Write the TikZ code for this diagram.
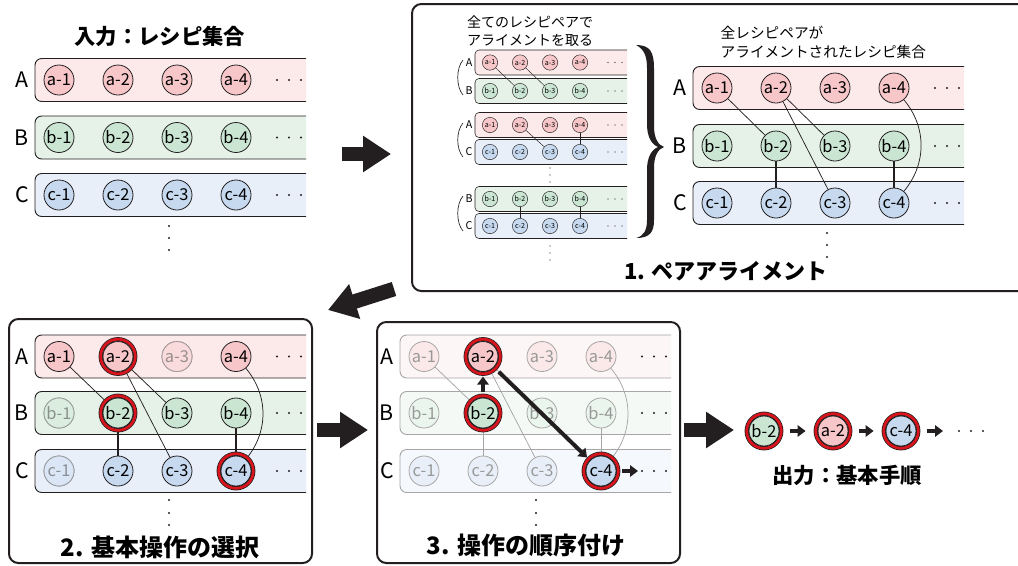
\documentclass[tikz,border=0pt]{standalone}
\usepackage{fontspec}
\setmainfont{Noto Sans CJK JP}
\usetikzlibrary{arrows.meta}
\definecolor{bandA}{HTML}{FCEAEA}
\definecolor{circA}{HTML}{F6C6C9}
\definecolor{bandB}{HTML}{E6F2E8}
\definecolor{circB}{HTML}{CAE6D3}
\definecolor{bandC}{HTML}{E8EFF9}
\definecolor{circC}{HTML}{C6D9EF}
\definecolor{ink}{HTML}{231F20}
\definecolor{ringred}{HTML}{D9141C}

\newcommand\bigrow[6]{%
  \begin{scope}
    \clip (#4-40,#5-30) rectangle (#4+247,#5+30);
    \draw[bandline, fill=band#6] (#4-24,#5-21.5) rectangle (#4+290,#5+21.5);
  \end{scope}
  \node[rowlab] (#1lab) at (#4-37,#5) {#2};
  \foreach \i in {1,2,3,4}{\node[rc, fill=circ#6] (#1\i) at ({#4+(\i-1)*59},#5) {#3-\i};}
}
\newcommand\rowdots[2]{\foreach \d in {218,230,242}{\fill[ink] (#1+\d,#2) circle (0.85pt);}}
\newcommand\smallrow[6]{%
  \begin{scope}
    \clip (#4-20,#5-15) rectangle (#4+137,#5+15);
    \draw[sbandline, fill=band#6] (#4-15,#5-12.5) rectangle (#4+160,#5+12.5);
  \end{scope}
  \node[srowlab] (#1lab) at (#4-21,#5) {#2};
  \foreach \i in {1,2,3,4}{\node[sc, fill=circ#6] (#1\i) at ({#4+(\i-1)*30},#5) {#3-\i};}
  \foreach \d in {118,125,132}{\fill[ink] (#4+\d,#5) circle (0.45pt);}
}
\newcommand\selring[1]{\draw[ringsty] (#1.center) circle (13pt);}

\begin{document}
\begin{tikzpicture}[x=0.75pt,y=-0.75pt,
  rc/.style={circle, draw=ink, line width=0.6pt, minimum size=22.5pt, inner sep=0pt, font=\fontsize{12.3}{13}\selectfont},
  sc/.style={circle, draw=ink, line width=0.35pt, minimum size=11.5pt, inner sep=0pt, font=\fontsize{5.3}{6}\selectfont},
  bandline/.style={draw=ink, line width=0.7pt, rounded corners=5pt},
  sbandline/.style={draw=ink, line width=0.4pt, rounded corners=3pt},
  rowlab/.style={font=\fontsize{16}{17}\selectfont},
  srowlab/.style={font=\fontsize{8}{9}\selectfont},
  ttl/.style={font=\fontsize{16}{18}\selectfont\bfseries},
  lnk/.style={ink, line width=0.55pt},
  tlnk/.style={ink, line width=1.4pt},
  slnk/.style={ink, line width=0.35pt},
  bigarr/.style={ink, line width=11pt, -{Triangle[length=21pt,width=26pt]}},
  smarr/.style={ink, line width=3pt, -{Triangle[length=6pt,width=8.5pt]}},
  panel/.style={draw=ink, line width=1.5pt, rounded corners=7pt},
  ringsty/.style={draw=ink, double=ringred, double distance=2pt, line width=0.55pt},
  vdot/.style={ink},
]
\useasboundingbox (0,0) rectangle (1018,565);
\fill[white] (0,0) rectangle (1018,565);

% ---------- input ----------
\node[ttl] (inTitle) at (160,36) {入力：レシピ集合};
\bigrow{iA}{A}{a}{59}{80}{A}
\bigrow{iB}{B}{b}{59}{137.5}{B}
\bigrow{iC}{C}{c}{59}{195}{C}
\rowdots{59}{80}\rowdots{59}{137.5}\rowdots{59}{195}
\foreach \y in {226,238,250}{\fill[vdot] (169,\y) circle (0.85pt);}

% ---------- panel 1 ----------
\draw[panel] (412,4) rectangle (1040,291);
\node[font=\fontsize{10.5}{13.5}\selectfont, align=center] (pairTxt) at (530,31.5) {全てのレシピペアで\\アライメントを取る};
\smallrow{pA}{A}{a}{490}{62.5}{A}
\smallrow{pB}{B}{b}{490}{91}{B}
\smallrow{qA}{A}{a}{490}{125}{A}
\smallrow{qC}{C}{c}{490}{152}{C}
\smallrow{rB}{B}{b}{490}{199}{B}
\smallrow{rC}{C}{c}{490}{226}{C}
\draw[slnk] (pA1) -- (pB2); \draw[slnk] (pA2) -- (pB3);
\draw[slnk] (qA2) -- (qC3); \draw[slnk] (qA4) -- (qC4);
\draw[slnk] (rB2) -- (rC2); \draw[slnk] (rB4) -- (rC4);
\foreach \a/\b in {60/95,123/157,196/231}{\draw[ink, line width=0.5pt] (463,\a) .. controls (456,{\a+8}) and (456,{\b-8}) .. (463,\b);}
\foreach \y in {168,175,182,246,253,260}{\fill[vdot] (550,\y) circle (0.45pt);}
\fill[ink] (636,45) .. controls (650,45) and (654,52) .. (654,68) -- (654,126)
  .. controls (654,138) and (658,145) .. (664,147)
  .. controls (658,149) and (654,156) .. (654,168) -- (654,220)
  .. controls (654,232) and (650,238) .. (636,238)
  .. controls (644,236) and (647,230) .. (647,220) -- (647,170)
  .. controls (647,158) and (651,150) .. (658,147)
  .. controls (651,144) and (647,136) .. (647,124) -- (647,68)
  .. controls (647,56) and (644,49) .. (636,45) -- cycle;
\node[font=\fontsize{11}{14.25}\selectfont, align=left, anchor=west] (allTxt) at (716,42.5) {全レシピペアが\\アライメントされたレシピ集合};
\bigrow{uA}{A}{a}{717}{88}{A}
\bigrow{uB}{B}{b}{717}{146}{B}
\bigrow{uC}{C}{c}{717}{203}{C}
\rowdots{717}{88}\rowdots{717}{146}\rowdots{717}{203}
\draw[lnk] (uA1) -- (uB2); \draw[lnk] (uA2) -- (uB3); \draw[lnk] (uA2) -- (uC3);
\draw[lnk] (uA4) to[out=-50,in=50] (uC4);
\draw[tlnk] (uB2) -- (uC2); \draw[tlnk] (uB4) -- (uC4);
\foreach \y in {233,245,257}{\fill[vdot] (827,\y) circle (0.85pt);}
\node[ttl, font=\fontsize{16.5}{18}\selectfont\bfseries] (t1) at (726,271) {1. ペアアライメント};

% ---------- panel 2 ----------
\draw[panel] (9,319) rectangle (312,563);
\bigrow{sA}{A}{a}{59}{356.5}{A}
\bigrow{sB}{B}{b}{59}{413}{B}
\bigrow{sC}{C}{c}{59}{471}{C}
\rowdots{59}{356.5}\rowdots{59}{413}\rowdots{59}{471}
\draw[lnk] (sA1) -- (sB2); \draw[lnk] (sA2) -- (sB3); \draw[lnk] (sA2) -- (sC3);
\draw[lnk] (sA4) to[out=-50,in=50] (sC4);
\draw[tlnk] (sB2) -- (sC2); \draw[tlnk] (sB4) -- (sC4);
\fill[bandA, opacity=0.6] (sA3) circle (11.6pt);
\fill[bandB, opacity=0.6] (sB1) circle (11.6pt);
\fill[bandC, opacity=0.6] (sC1) circle (11.6pt);
\selring{sA2}\selring{sB2}\selring{sC4}
\foreach \y in {500,513,525}{\fill[vdot] (169,\y) circle (0.85pt);}
\node[ttl, font=\fontsize{18}{20}\selectfont\bfseries] (t2) at (160,547) {2. 基本操作の選択};

% ---------- panel 3 ----------
\draw[panel] (377,322) rectangle (680,563);
\bigrow{tA}{A}{a}{424}{356.5}{A}
\bigrow{tB}{B}{b}{424}{413}{B}
\bigrow{tC}{C}{c}{424}{471}{C}
\draw[lnk] (tA1) -- (tB2); \draw[lnk] (tA2) -- (tB3); \draw[lnk] (tA2) -- (tC3);
\draw[lnk] (tA4) to[out=-50,in=50] (tC4);
\draw[lnk] (tB2) -- (tC2); \draw[lnk] (tB4) -- (tC4);
\fill[white, opacity=0.6] (398,330) rectangle (673,496);
\rowdots{424}{356.5}\rowdots{424}{413}\rowdots{424}{471}
\node[rc, fill=circA] (tA2h) at (tA2) {a-2};
\node[rc, fill=circB] (tB2h) at (tB2) {b-2};
\node[rc, fill=circC] (tC4h) at (tC4) {c-4};
\selring{tA2h}\selring{tB2h}\selring{tC4h}
\draw[smarr, shorten <=4pt, shorten >=3.5pt] (tB2h) -- (tA2h);
\draw[smarr, shorten <=5pt, shorten >=3pt] (tA2h) -- (tC4h);
\coordinate (tnext) at (638,471);
\draw[smarr, shorten <=4.5pt] (tC4h) -- (tnext);
\foreach \y in {500,513,525}{\fill[vdot] (536,\y) circle (0.85pt);}
\node[ttl, font=\fontsize{18}{20}\selectfont\bfseries] (t3) at (526,545) {3. 操作の順序付け};

% ---------- output ----------
\node[rc, fill=circB] (oB2) at (764,431) {b-2};
\node[rc, fill=circA] (oA2) at (833,431) {a-2};
\node[rc, fill=circC] (oC4) at (901,431) {c-4};
\selring{oB2}\selring{oA2}\selring{oC4}
\draw[smarr, shorten <=8pt, shorten >=9pt] (oB2) -- (oA2);
\draw[smarr, shorten <=8pt, shorten >=9pt] (oA2) -- (oC4);
\coordinate (onext) at (943,431);
\draw[smarr, shorten <=8pt] (oC4) -- (onext);
\foreach \x in {959,971,983}{\fill[ink] (\x,431) circle (0.85pt);}
\node[ttl] (outTitle) at (847,475) {出力：基本手順};

% ---------- big arrows ----------
\coordinate (a1s) at (342,154); \coordinate (a1e) at (391,154);
\coordinate (a2s) at (394,289); \coordinate (a2e) at (328,310);
\coordinate (a3s) at (317,430); \coordinate (a3e) at (368,430);
\coordinate (a4s) at (684,430); \coordinate (a4e) at (734,430);
\draw[bigarr] (a1s) -- (a1e);
\draw[bigarr] (a2s) -- (a2e);
\draw[bigarr] (a3s) -- (a3e);
\draw[bigarr] (a4s) -- (a4e);
\end{tikzpicture}
\end{document}
